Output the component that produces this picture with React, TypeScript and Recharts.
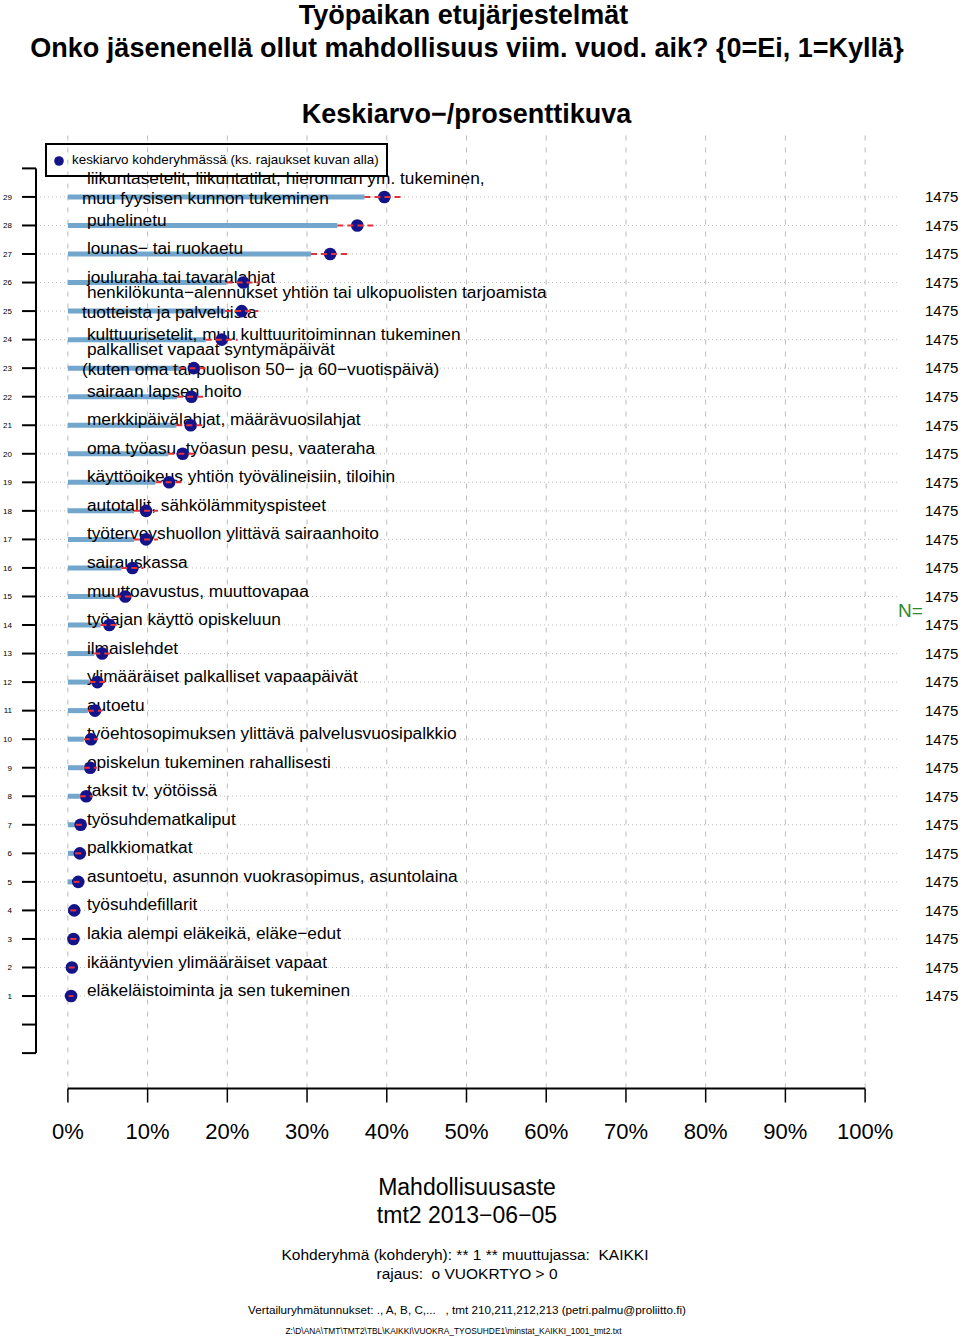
import React from 'react';
import { ComposedChart, XAxis, YAxis, Scatter, ReferenceLine, Legend } from 'recharts';

const FONT = '"Liberation Sans", Arial, Helvetica, sans-serif';

// rows from top (29) to bottom (1)
const rowIds = [29, 28, 27, 26, 25, 24, 23, 22, 21, 20, 19, 18, 17, 16, 15, 14, 13, 12, 11, 10, 9, 8, 7, 6, 5, 4, 3, 2, 1];

const labels: string[][] = [
  ['liikuntasetelit, liikuntatilat, hieronnan ym. tukeminen,', 'muu fyysisen kunnon tukeminen'],
  ['puhelinetu'],
  ['lounas− tai ruokaetu'],
  ['jouluraha tai tavaralahjat'],
  ['henkilökunta−alennukset yhtiön tai ulkopuolisten tarjoamista', 'tuotteista ja palveluista'],
  ['kulttuurisetelit, muu kulttuuritoiminnan tukeminen'],
  ['palkalliset vapaat syntymäpäivät', '(kuten oma tai puolison 50− ja 60−vuotispäivä)'],
  ['sairaan lapsen hoito'],
  ['merkkipäivälahjat, määrävuosilahjat'],
  ['oma työasu, työasun pesu, vaateraha'],
  ['käyttöoikeus yhtiön työvälineisiin, tiloihin'],
  ['autotallit, sähkölämmityspisteet'],
  ['työterveyshuollon ylittävä sairaanhoito'],
  ['sairauskassa'],
  ['muuttoavustus, muuttovapaa'],
  ['työajan käyttö opiskeluun'],
  ['ilmaislehdet'],
  ['ylimääräiset palkalliset vapaapäivät'],
  ['autoetu'],
  ['työehtosopimuksen ylittävä palvelusvuosipalkkio'],
  ['opiskelun tukeminen rahallisesti'],
  ['taksit tv. yötöissä'],
  ['työsuhdematkaliput'],
  ['palkkiomatkat'],
  ['asuntoetu, asunnon vuokrasopimus, asuntolaina'],
  ['työsuhdefillarit'],
  ['lakia alempi eläkeikä, eläke−edut'],
  ['ikääntyvien ylimääräiset vapaat'],
  ['eläkeläistoiminta ja sen tukeminen'],
];

const means = [39.7, 36.3, 32.9, 22.0, 21.8, 19.3, 15.8, 15.5, 15.4, 14.4, 12.7, 9.8, 9.8, 8.1, 7.2, 5.2, 4.3, 3.7, 3.4, 2.9, 2.8, 2.3, 1.6, 1.5, 1.3, 0.8, 0.7, 0.5, 0.4];
const lows = [37.2, 33.8, 30.5, 19.9, 19.7, 17.3, 14.0, 13.7, 13.6, 12.6, 11.0, 8.3, 8.3, 6.7, 5.9, 4.1, 3.3, 2.7, 2.5, 2.0, 2.0, 1.5, 1.0, 0.9, 0.7, 0.3, 0.3, 0.1, 0.1];
const highs = [42.2, 38.8, 35.3, 24.1, 23.9, 21.3, 17.6, 17.3, 17.2, 16.2, 14.4, 11.3, 11.3, 9.5, 8.5, 6.3, 5.3, 4.7, 4.3, 3.8, 3.6, 3.1, 2.2, 2.1, 1.9, 1.3, 1.1, 0.9, 0.7];
const ns = [1475, 1475, 1475, 1475, 1475, 1475, 1475, 1475, 1475, 1475, 1475, 1475, 1475, 1475, 1475, 1475, 1475, 1475, 1475, 1475, 1475, 1475, 1475, 1475, 1475, 1475, 1475, 1475, 1475];

const xTicks = [0, 10, 20, 30, 40, 50, 60, 70, 80, 90, 100];
const yTicks = [-1, 0, 1, 2, 3, 4, 5, 6, 7, 8, 9, 10, 11, 12, 13, 14, 15, 16, 17, 18, 19, 20, 21, 22, 23, 24, 25, 26, 27, 28, 29, 30];
const xDomain: [number, number] = [-4, 104];
const yDomain: [number, number] = [-2.24, 31.24];

const rows = rowIds.map((row, i) => ({
  row,
  mean: means[i],
  low: lows[i],
  high: highs[i],
  n: ns[i],
  lines: labels[i],
}));
const dotData = rows.map((r) => ({ row: r.row, x: r.mean }));
const labelData = rows.map((r) => ({ row: r.row, x: 0, lines: r.lines }));

const LabelShape = (props: any) => {
  const { cx, cy, payload } = props;
  const lines: string[] = payload.lines;
  if (lines.length === 1) {
    return (
      <text x={cx + 19} y={cy - 6} dy="0.35em" fontSize={17.3} fontFamily={FONT} fill="#000">
        {lines[0]}
      </text>
    );
  }
  return (
    <text fontSize={17.3} fontFamily={FONT} fill="#000">
      <tspan x={cx + 19} y={cy - 19} dy="0.35em">{lines[0]}</tspan>
      <tspan x={cx + 14} y={cy + 1} dy="0.35em">{lines[1]}</tspan>
    </text>
  );
};

const DotShape = (props: any) => {
  const { cx, cy } = props;
  return <circle cx={cx} cy={cy} r={6.3} fill="#14148a" />;
};

const LegendBox = () => (
  <div
    style={{
      boxSizing: 'border-box',
      width: 343,
      height: 34,
      border: '2px solid #000',
      position: 'relative',
      fontFamily: FONT,
      fontSize: 13.4,
      color: '#000',
    }}
  >
    <svg width={20} height={20} style={{ position: 'absolute', left: 3, top: 6 }}>
      <circle cx={9} cy={10} r={4.8} fill="#14148a" />
    </svg>
    <span style={{ position: 'absolute', left: 25, top: 7, lineHeight: '16px', whiteSpace: 'pre' }}>
      keskiarvo kohderyhmässä (ks. rajaukset kuvan alla)
    </span>
  </div>
);

const T = (p: { x: number; y: number; size: number; bold?: boolean; children: string }) => (
  <text
    x={p.x}
    y={p.y}
    textAnchor="middle"
    fontFamily={FONT}
    fontSize={p.size}
    fontWeight={p.bold ? 'bold' : 'normal'}
    fill="#000"
    style={{ whiteSpace: 'pre' }}
  >
    {p.children}
  </text>
);

export default function App() {
  return (
    <div style={{ position: 'absolute', left: 0, top: 0, width: 960, height: 1336, background: '#fff' }}>
      <ComposedChart width={960} height={1336} margin={{ top: 133, right: 0, bottom: 187.5, left: 0 }}>
        <XAxis
          type="number"
          dataKey="x"
          domain={xDomain}
          allowDataOverflow
          ticks={xTicks}
          tickFormatter={(v: number) => `${v}%`}
          height={60}
          axisLine={false}
          tickSize={14}
          tickMargin={21}
          tickLine={{ stroke: '#000', strokeWidth: 1.5 }}
          tick={{ fontSize: 22, fill: '#000', fontFamily: FONT }}
          interval={0}
        />
        <YAxis
          type="number"
          dataKey="row"
          domain={yDomain}
          allowDataOverflow
          ticks={yTicks}
          interval={0}
          width={36}
          axisLine={false}
          tickSize={14}
          tickMargin={10}
          tickLine={{ stroke: '#000', strokeWidth: 2 }}
          tick={{ fontSize: 8, fill: '#000', fontFamily: FONT }}
          tickFormatter={(v: number) => (v >= 1 && v <= 29 ? String(v) : '')}
        />
        <YAxis
          yAxisId="n"
          orientation="right"
          type="number"
          dataKey="row"
          domain={yDomain}
          allowDataOverflow
          ticks={rowIds}
          interval={0}
          width={63}
          axisLine={false}
          tickLine={false}
          tickSize={0}
          tickMargin={28}
          tick={{ fontSize: 15, fill: '#000', fontFamily: FONT }}
          tickFormatter={(v: number) => {
            const d = rows.find((r) => r.row === v);
            return d ? String(d.n) : '';
          }}
          label={{ value: 'N=', position: 'insideLeft', offset: 1, fill: '#2a8a2a', fontSize: 19, fontFamily: FONT }}
        />

        {xTicks.map((v) => (
          <ReferenceLine key={`vx${v}`} x={v} stroke="#bcbcbc" strokeDasharray="5 7" strokeWidth={1} />
        ))}
        {rowIds.map((r) => (
          <ReferenceLine key={`hy${r}`} y={r} stroke="#bdbdbd" strokeDasharray="1 3" strokeWidth={1} />
        ))}

        <ReferenceLine segment={[{ x: xDomain[0], y: -1 }, { x: xDomain[0], y: 30 }]} stroke="#000" strokeWidth={2} />
        <ReferenceLine segment={[{ x: 0, y: yDomain[0] }, { x: 100, y: yDomain[0] }]} stroke="#000" strokeWidth={2} />

        {rows.map((d) => (
          <ReferenceLine
            key={`bar${d.row}`}
            segment={[{ x: 0, y: d.row }, { x: d.low, y: d.row }]}
            stroke="#72a6cd"
            strokeWidth={5}
          />
        ))}

        <Scatter data={labelData} shape={LabelShape} isAnimationActive={false} legendType="none" />
        <Scatter data={dotData} shape={DotShape} isAnimationActive={false} name="keskiarvo" />

        {rows.map((d) => (
          <ReferenceLine
            key={`ci${d.row}`}
            segment={[{ x: d.low, y: d.row }, { x: d.high, y: d.row }]}
            stroke="#e5323a"
            strokeWidth={2}
            strokeDasharray="6 4"
            zIndex={700}
          />
        ))}

        <Legend
          layout="vertical"
          align="center"
          verticalAlign="middle"
          wrapperStyle={{ left: 45, top: 143, width: 343, height: 34, margin: 0 }}
          content={() => <LegendBox />}
        />
      </ComposedChart>

      <svg
        width={960}
        height={1336}
        style={{ position: 'absolute', left: 0, top: 0, pointerEvents: 'none' }}
      >
        <T x={463.5} y={24} size={27} bold>Työpaikan etujärjestelmät</T>
        <T x={467} y={57} size={27} bold>{'Onko jäsenenellä ollut mahdollisuus viim. vuod. aik? {0=Ei, 1=Kyllä}'}</T>
        <T x={466.5} y={123} size={27} bold>Keskiarvo−/prosenttikuva</T>

        <T x={467} y={1195} size={23}>Mahdollisuusaste</T>
        <T x={467} y={1223} size={23}>tmt2 2013−06−05</T>
        <T x={465} y={1260} size={15.5}>Kohderyhmä (kohderyh): ** 1 ** muuttujassa:  KAIKKI</T>
        <T x={467} y={1279} size={15.5}>rajaus:  o VUOKRTYO &gt; 0</T>
        <T x={467} y={1314} size={11.7}>Vertailuryhmätunnukset: ., A, B, C,...   , tmt 210,211,212,213 (petri.palmu@proliitto.fi)</T>
        <T x={453.5} y={1334} size={8.4}>{'Z:\\D\\ANA\\TMT\\TMT2\\TBL\\KAIKKI\\VUOKRA_TYOSUHDE1\\minstat_KAIKKI_1001_tmt2.txt'}</T>
      </svg>
    </div>
  );
}
